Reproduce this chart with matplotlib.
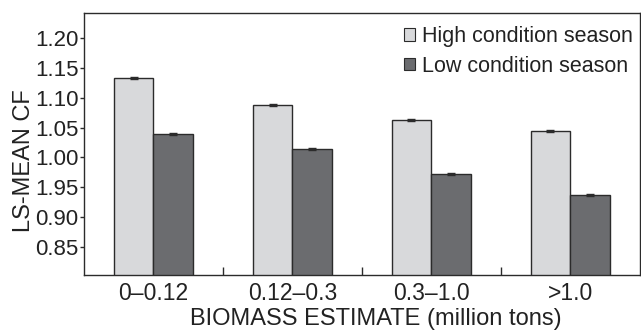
import matplotlib.pyplot as plt
from matplotlib.patches import Patch

plt.rcParams['font.family'] = ['Liberation Sans', 'DejaVu Sans']

groups = ["0\u20130.12", "0.12\u20130.3", "0.3\u20131.0", ">1.0"]
high_cf = [1.133, 1.088, 1.063, 1.044]
low_cf = [1.039, 1.014, 0.972, 0.937]
high_err = [0.002, 0.002, 0.002, 0.002]
low_err = [0.002, 0.002, 0.002, 0.002]
y_ticks = [0.85, 0.90, 0.95, 1.00, 1.05, 1.10, 1.15, 1.20]
y_tick_labels = ["0.85", "0.90", "1.95", "1.00", "1.05", "1.10", "1.15", "1.20"]

LIGHT = "#d8d9db"
DARK = "#6b6c6f"
EDGE = "#2b2b2b"
TEXT = "#222222"


def ve_bieu_do():
    fig = plt.figure(figsize=(6.41, 3.32), dpi=100)
    ax = fig.add_axes([0.131, 0.172, 0.867, 0.789])

    x = list(range(len(groups)))
    w = 0.286
    ax.bar([i - w / 2 for i in x], high_cf, w, color=LIGHT, edgecolor=EDGE,
           linewidth=1.0, yerr=high_err, error_kw=dict(ecolor=EDGE, capsize=3, elinewidth=1))
    ax.bar([i + w / 2 for i in x], low_cf, w, color=DARK, edgecolor=EDGE,
           linewidth=1.0, yerr=low_err, error_kw=dict(ecolor=EDGE, capsize=3, elinewidth=1))

    ax.set_xlim(-0.5, 3.5)
    ax.set_ylim(0.803, 1.242)
    ax.set_yticks(y_ticks)
    ax.set_yticklabels(y_tick_labels)
    ax.set_xticks(x)
    ax.set_xticklabels(groups)
    ax.set_xticks([0.5, 1.5, 2.5], minor=True)
    ax.tick_params(axis='x', which='major', length=0, labelsize=16.5, pad=5,
                   labelcolor=TEXT)
    ax.tick_params(axis='x', which='minor', direction='in', length=6, width=1, color=EDGE)
    ax.tick_params(axis='y', length=3, width=1, labelsize=16, pad=1, color=EDGE,
                   labelcolor=TEXT)

    for s in ax.spines.values():
        s.set_linewidth(1.0)
        s.set_color(EDGE)

    fig.text(376 / 641, 1 - 319 / 332, "BIOMASS ESTIMATE (million tons)",
             ha='center', va='center', fontsize=17, color=TEXT)
    fig.text(24 / 641, 1 - 161 / 332, "LS-MEAN CF", rotation=90,
             ha='center', va='center', fontsize=17, color=TEXT)

    handles = [Patch(facecolor=LIGHT, edgecolor=EDGE, linewidth=0.8),
               Patch(facecolor=DARK, edgecolor=EDGE, linewidth=0.8)]
    fig.legend(handles, ["High condition season", "Low condition season"],
               loc='upper left', bbox_to_anchor=(404 / 641, 1 - 26 / 332),
               frameon=False, fontsize=15.5, handlelength=0.52,
               handleheight=0.52, handletextpad=0.3, labelspacing=0.4,
               borderpad=0, borderaxespad=0, labelcolor=TEXT)

    fig.savefig("out.png", dpi=100)


if __name__ == "__main__":
    ve_bieu_do()
